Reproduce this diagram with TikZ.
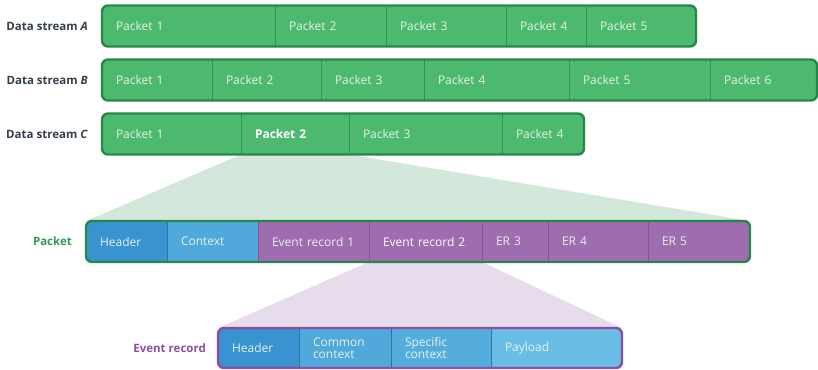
\documentclass[tikz,border=0pt]{standalone}
\usepackage{fontspec}
\setmainfont{Open Sans}
\usetikzlibrary{positioning, backgrounds}
\definecolor{streamgreen}{HTML}{4DB96F}
\definecolor{greenframe}{HTML}{24884A}
\definecolor{greendiv}{HTML}{2E9650}
\definecolor{segtext}{HTML}{E4F3E7}
\definecolor{hdrblue}{HTML}{3993D0}
\definecolor{ctxblue}{HTML}{51A8DA}
\definecolor{specblue}{HTML}{55ADDD}
\definecolor{payblue}{HTML}{6ABEE5}
\definecolor{evpurple}{HTML}{9F6CAF}
\definecolor{purplediv}{HTML}{8A4F9E}
\definecolor{erframe}{HTML}{8E4E9F}
\definecolor{labelgray}{HTML}{333F4A}
\definecolor{pktlabel}{HTML}{2E9A55}
\definecolor{wedgegreen}{HTML}{D3E8DA}
\definecolor{wedgepurple}{HTML}{E6DCEB}

\begin{document}
\begin{tikzpicture}[
    x=1pt, y=-1pt,
    seg/.style={draw=greendiv, fill=streamgreen, line width=0.8pt, minimum height=41pt, outer sep=0pt,
      inner xsep=14pt, inner ysep=0pt, align=left, text=segtext,
      font=\fontsize{12}{12.5}\selectfont},
    pseg/.style={seg, draw=purplediv, fill=evpurple},
    bseg/.style={seg, draw=hdrblue!80!black, fill=#1},
    frame/.style={draw=greenframe, line width=2.4pt, rounded corners=6pt},
    rowlabel/.style={anchor=east, inner sep=0pt, text=labelgray, font=\bfseries\fontsize{11.5}{13}\selectfont},
  ]
  \useasboundingbox (0,0) rectangle (818,369);

  % Stream labels
  \node[rowlabel] (la) at (88,26) {Data stream \textit{A}};
  \node[rowlabel] (lb) at (88,80) {Data stream \textit{B}};
  \node[rowlabel] (lc) at (88,134) {Data stream \textit{C}};
  \node[rowlabel, text=pktlabel] (lp) at (72,241.5) {Packet};
  \node[rowlabel, text=erframe] (le) at (206,348) {Event record};

  % Data stream A
  \begin{scope}
    \clip[rounded corners=6pt] (102,5.5) rectangle (696,46.5);
    \node[seg, text width=145pt, anchor=west] (a1) at (102,26) {Packet 1};
    \node[seg, text width=83pt, right=0pt of a1] (a2) {Packet 2};
    \node[seg, text width=92pt, right=0pt of a2] (a3) {Packet 3};
    \node[seg, text width=52pt, right=0pt of a3] (a4) {Packet 4};
    \node[seg, text width=82pt, right=0pt of a4] (a5) {Packet 5};
  \end{scope}
  \draw[frame] (a1.north west) rectangle (a5.south east);

  % Data stream B
  \begin{scope}
    \clip[rounded corners=6pt] (102,59.5) rectangle (817,100.5);
    \node[seg, text width=82pt, anchor=west] (b1) at (102,80) {Packet 1};
    \node[seg, text width=81pt, right=0pt of b1] (b2) {Packet 2};
    \node[seg, text width=75pt, right=0pt of b2] (b3) {Packet 3};
    \node[seg, text width=117pt, right=0pt of b3] (b4) {Packet 4};
    \node[seg, text width=113pt, right=0pt of b4] (b5) {Packet 5};
    \node[seg, text width=79pt, right=0pt of b5] (b6) {Packet 6};
  \end{scope}
  \draw[frame] (b1.north west) rectangle (b6.south east);

  % Data stream C
  \begin{scope}
    \clip[rounded corners=6pt] (102,113.5) rectangle (584,154.5);
    \node[seg, text width=111pt, anchor=west] (c1) at (102,134) {Packet 1};
    \node[seg, text width=80pt, right=0pt of c1, text=white, font=\bfseries\fontsize{12}{12.5}\selectfont] (c2) {Packet 2};
    \node[seg, text width=125pt, right=0pt of c2] (c3) {Packet 3};
    \node[seg, text width=54pt, right=0pt of c3] (c4) {Packet 4};
  \end{scope}
  \draw[frame] (c1.north west) rectangle (c4.south east);

  % Packet
  \begin{scope}
    \clip[rounded corners=6pt] (86,221) rectangle (750,262);
    \node[bseg=hdrblue, text width=53pt, anchor=west] (p1) at (86,241.5) {Header};
    \node[bseg=ctxblue, text width=63pt, right=0pt of p1] (p2) {Context};
    \node[pseg, text width=83pt, right=0pt of p2] (p3) {Event record 1};
    \node[pseg, text width=85pt, right=0pt of p3, text=white] (p4) {Event record 2};
    \node[pseg, text width=38pt, right=0pt of p4] (p5) {ER 3};
    \node[pseg, text width=72pt, right=0pt of p5] (p6) {ER 4};
    \node[pseg, text width=74pt, right=0pt of p6] (p7) {ER 5};
  \end{scope}
  \draw[frame] (p1.north west) rectangle (p7.south east);

  % Event record
  \begin{scope}
    \clip[rounded corners=6pt] (218,328) rectangle (622,368);
    \node[bseg=hdrblue, minimum height=40pt, text width=53pt, anchor=west] (e1) at (218,348) {Header};
    \node[bseg=ctxblue, minimum height=40pt, text width=64pt, right=0pt of e1] (e2) {Common\\context};
    \node[bseg=specblue, minimum height=40pt, text width=72pt, right=0pt of e2] (e3) {Specific\\context};
    \node[bseg=payblue, minimum height=40pt, text width=103pt, right=0pt of e3] (e4) {Payload};
  \end{scope}
  \draw[frame, draw=erframe] (e1.north west) rectangle (e4.south east);

  % Zoom wedges
  \begin{scope}[on background layer]
    \fill[wedgegreen] (c2.south west) -- (c2.south east) -- (p7.north east) -- (p1.north west) -- cycle;
    \fill[wedgepurple] (p4.south west) -- (p4.south east) -- (e4.north east) -- (e1.north west) -- cycle;
  \end{scope}
\end{tikzpicture}
\end{document}
